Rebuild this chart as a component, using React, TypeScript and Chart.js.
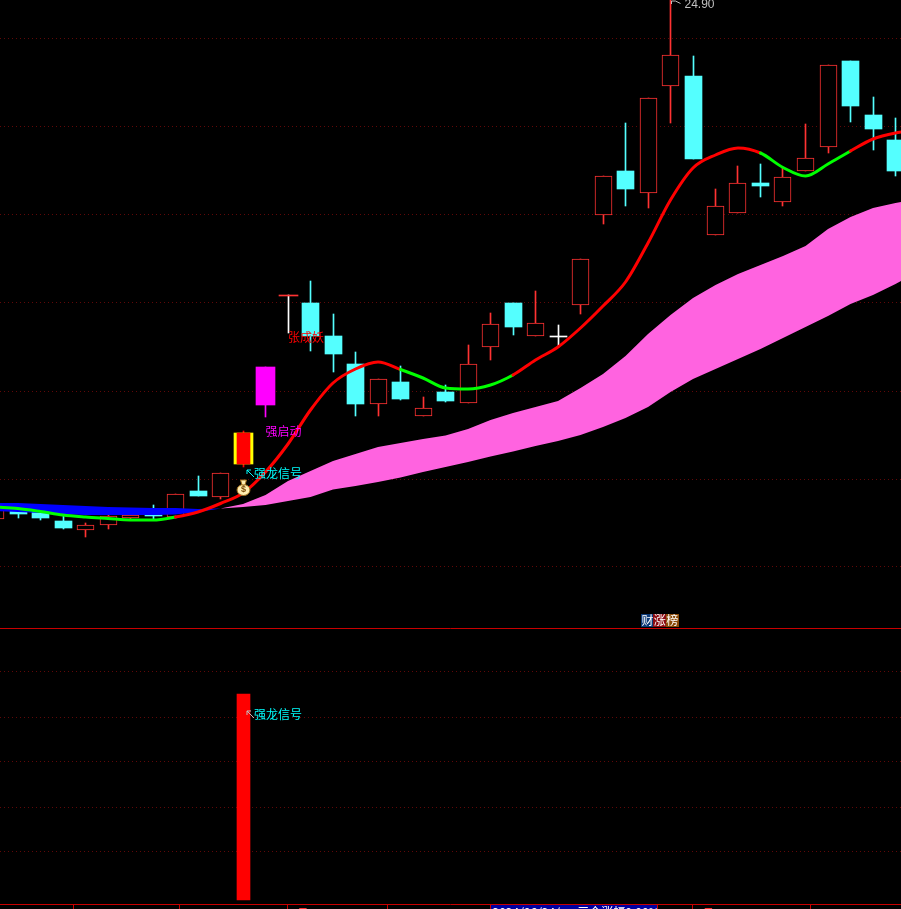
import React, { useEffect, useRef } from "react";
import { Chart, registerables } from "chart.js";

Chart.register(...registerables);

// Candles, one entry per trading day
const candleOpen = [14.52, 14.68, 14.66, 14.48, 14.30, 14.40, 14.54, 14.60, 14.56, 15.08, 14.96, 15.62, 16.80, 18.98, 18.84, 18.18, 17.62, 16.82, 17.26, 16.58, 17.06, 16.84, 17.96, 18.84, 18.18, 18.18, 18.80, 20.60, 21.48, 21.04, 23.18, 23.38, 20.20, 20.64, 21.24, 20.86, 21.48, 21.96, 23.68, 22.60, 22.10];
const candleClose = [14.72, 14.62, 14.54, 14.34, 14.40, 14.58, 14.60, 14.58, 15.02, 14.98, 15.44, 16.24, 17.56, 19.00, 18.18, 17.82, 16.82, 17.32, 16.92, 16.74, 16.88, 17.62, 18.42, 18.36, 18.44, 18.16, 19.72, 21.38, 21.12, 22.94, 23.80, 21.72, 20.78, 21.24, 21.18, 21.36, 21.74, 23.60, 22.78, 22.32, 21.48];
const candleHigh = [14.76, 14.70, 14.68, 14.60, 14.44, 14.60, 14.64, 14.80, 15.02, 15.38, 15.44, 16.28, 17.56, 19.00, 19.28, 18.62, 17.86, 17.32, 17.58, 16.96, 17.20, 18.00, 18.64, 18.84, 19.08, 18.40, 19.72, 21.38, 22.44, 22.94, 24.90, 23.78, 21.12, 21.58, 21.62, 21.56, 22.42, 23.60, 23.68, 22.96, 22.54];
const candleLow = [14.52, 14.54, 14.50, 14.32, 14.16, 14.32, 14.50, 14.50, 14.56, 14.98, 14.92, 15.56, 16.56, 18.24, 17.88, 17.46, 16.58, 16.58, 16.90, 16.58, 16.86, 16.84, 17.70, 18.20, 18.18, 17.96, 18.62, 20.42, 20.78, 20.74, 22.44, 21.72, 20.20, 20.64, 20.96, 20.78, 21.48, 21.84, 22.46, 21.90, 21.38];
const signalDays = [11];
const magentaDays = [12];
const crossDays = [25];
const flatDays = [13];
const whiteWickDays = [13, 25];

// Trend line
const trendLine = [14.76, 14.73, 14.67, 14.60, 14.56, 14.53, 14.50, 14.50, 14.56, 14.66, 14.83, 15.04, 15.46, 16.02, 16.70, 17.24, 17.52, 17.66, 17.51, 17.34, 17.14, 17.12, 17.20, 17.40, 17.70, 17.96, 18.34, 18.78, 19.26, 20.04, 20.90, 21.54, 21.80, 21.94, 21.84, 21.55, 21.38, 21.62, 21.88, 22.12, 22.24, 22.30];
const trendGreenSegments = [0, 1, 2, 3, 4, 5, 6, 7, 18, 19, 20, 21, 22, 34, 35, 36, 37];

// Band after and before the moving averages cross
const bandStart = 10;
const bandUpper = [14.73, 14.82, 15.00, 15.28, 15.48, 15.68, 15.82, 15.96, 16.04, 16.12, 16.19, 16.32, 16.50, 16.64, 16.76, 16.88, 17.14, 17.42, 17.78, 18.22, 18.60, 18.94, 19.20, 19.42, 19.60, 19.78, 19.98, 20.32, 20.56, 20.74, 20.84, 20.92];
const bandLower = [14.73, 14.76, 14.80, 14.88, 14.96, 15.11, 15.18, 15.26, 15.35, 15.46, 15.56, 15.66, 15.77, 15.87, 15.98, 16.08, 16.20, 16.36, 16.54, 16.76, 17.06, 17.32, 17.52, 17.72, 17.92, 18.14, 18.36, 18.58, 18.82, 19.00, 19.22, 19.46];
const crossUpper = [14.84, 14.84, 14.82, 14.80, 14.78, 14.76, 14.75, 14.74, 14.74, 14.72, 14.73];
const crossLower = [14.68, 14.66, 14.64, 14.62, 14.60, 14.60, 14.60, 14.60, 14.61, 14.66, 14.73];

// Grid levels
const priceGrid = [24.12, 22.36, 20.6, 18.84, 17.08, 15.32, 13.56];
const indicatorGrid = [23.3, 45.1, 67, 88.8, 110.7];

// Lower pane
const indicatorDays = [11];
const indicatorValues = [100];

// Axis
const dateTicks = [3.47, 8.2, 12.96, 17.44, 30.98, 36.2];
const monthTickDays = [12.96, 30.98];
const monthTickLabels = ["7月", "8月"];
const cursorLabel = "2024/06/24/一  三今涨幅0.00%";
const highLabel = "24.90";
const signalLabel = "强龙信号";
const startLabel = "强启动";
const demonLabel = "张成妖";
const badgeChars = ["财", "涨", "榜"];

const UP = "#ff3232";
const DOWN = "#54ffff";
const PANE = "#c80000";
const GRID = "#600808";
const X_MIN = 0.2;
const X_MAX = 0.2 + 901 / 22.5;
const PRICE_MIN = 6.72;
const PRICE_MAX = 24.9;
const IND_MIN = -4.37;
const IND_MAX = 436.89;

const series = (vals: number[], start = 0) => vals.map((y, i) => ({ x: i + start, y }));
const isSpecial = (i: number) =>
  signalDays.includes(i) || magentaDays.includes(i) || crossDays.includes(i) || flatDays.includes(i);
const bodyAt = (i: number) => ({ x: i, y: [candleOpen[i], candleClose[i]] });
const allDays = candleOpen.map((_, i) => i);

const snapBars = {
  id: "snapBars",
  beforeDatasetsDraw(chart: any) {
    chart.getSortedVisibleDatasetMetas().forEach((meta: any) => {
      if (meta.type !== "bar") return;
      meta.data.forEach((el: any) => {
        el.x = Math.floor(el.x) + 0.5;
        el.y = Math.round(el.y);
        el.base = Math.round(el.base);
      });
    });
  },
};

const background = {
  id: "background",
  beforeDraw(chart: any) {
    const { ctx, width, height } = chart;
    ctx.save();
    ctx.fillStyle = "#000";
    ctx.fillRect(0, 0, width, height);
    ctx.restore();
  },
};

const annotations = {
  id: "annotations",
  afterDatasetsDraw(chart: any) {
    const { ctx } = chart;
    const sx = chart.scales.x;
    const sy = chart.scales.y;
    const si = chart.scales.yInd;
    const cjk = '12px "Noto Sans CJK SC"';
    ctx.save();
    ctx.textBaseline = "middle";
    ctx.textAlign = "left";

    const text = (t: string, x: number, y: number, color: string, font = cjk) => {
      ctx.font = font;
      ctx.fillStyle = color;
      ctx.fillText(t, x, y);
    };

    // money bag
    const bx = sx.getPixelForValue(11) + 0.5;
    const by = sy.getPixelForValue(15.14);
    ctx.fillStyle = "#ffedb0";
    ctx.strokeStyle = "#9a6a18";
    ctx.lineWidth = 1;
    ctx.beginPath();
    ctx.ellipse(bx, by + 2, 6.5, 5.5, 0, 0, Math.PI * 2);
    ctx.fill();
    ctx.stroke();
    ctx.beginPath();
    ctx.moveTo(bx - 3, by - 8);
    ctx.lineTo(bx + 3, by - 8);
    ctx.lineTo(bx + 1.5, by - 3);
    ctx.lineTo(bx - 1.5, by - 3);
    ctx.closePath();
    ctx.fill();
    ctx.stroke();
    ctx.textAlign = "center";
    text("$", bx, by + 2, "#7a4a08", 'bold 9px "Liberation Sans"');
    ctx.textAlign = "left";

    // pattern labels
    text(demonLabel, sx.getPixelForValue(13), sy.getPixelForValue(18.16), "#ff0000");
    text(startLabel, sx.getPixelForValue(12), sy.getPixelForValue(16.28), "#ff00ff");

    const arrow = (y: number, color: string) => {
      const x = sx.getPixelForValue(11) + 3;
      ctx.strokeStyle = color;
      ctx.fillStyle = color;
      ctx.lineWidth = 1;
      ctx.beginPath();
      ctx.moveTo(x + 8, y + 4);
      ctx.lineTo(x + 1, y - 3);
      ctx.moveTo(x + 1, y - 3);
      ctx.lineTo(x + 5, y - 3);
      ctx.moveTo(x + 1, y - 3);
      ctx.lineTo(x + 1, y + 1);
      ctx.stroke();
    };
    const upperSignalY = sy.getPixelForValue(15.44);
    arrow(upperSignalY, "#00ffff");
    text(signalLabel, sx.getPixelForValue(11) + 11, upperSignalY, "#00ffff");
    const lowerSignalY = si.getPixelForValue(90.3);
    arrow(lowerSignalY, "#c0c0c0");
    text(signalLabel, sx.getPixelForValue(11) + 11, lowerSignalY, "#00ffff");

    // highest price flag
    const hx = sx.getPixelForValue(30);
    const hy = sy.getPixelForValue(24.9);
    ctx.strokeStyle = "#c0c0c0";
    ctx.lineWidth = 1;
    ctx.beginPath();
    ctx.moveTo(hx + 1, hy + 4);
    ctx.lineTo(hx + 1, hy + 1);
    ctx.lineTo(hx + 5, hy + 1);
    ctx.lineTo(hx + 10, hy + 3.5);
    ctx.stroke();
    text(highLabel, hx + 14, hy + 5, "#c0c0c0", '12px "Liberation Sans"');

    // badge
    const badgeColors = ["#0c3a78", "#8c0a10", "#8a4a08"];
    const bLeft = sx.getPixelForValue(28.69);
    const bTop = sy.getPixelForValue(12.62);
    badgeChars.forEach((c, i) => {
      ctx.fillStyle = badgeColors[i];
      ctx.fillRect(Math.round(bLeft + i * 12.33), Math.round(bTop), 13, 13);
    });
    ctx.textAlign = "center";
    badgeChars.forEach((c, i) => {
      text(c, bLeft + 6.5 + i * 12.33, bTop + 6.5, "#ffffff");
    });
    ctx.textAlign = "left";

    // date axis
    const axisY = sy.getPixelForValue(6.81);
    ctx.strokeStyle = PANE;
    ctx.lineWidth = 1;
    dateTicks.forEach((d) => {
      const x = Math.floor(sx.getPixelForValue(d)) + 0.5;
      ctx.beginPath();
      ctx.moveTo(x, axisY);
      ctx.lineTo(x, axisY + 5);
      ctx.stroke();
    });
    ctx.textBaseline = "top";
    monthTickDays.forEach((d, i) => {
      text(monthTickLabels[i], sx.getPixelForValue(d) + 3, axisY + 3, "#ff3232");
    });
    // cursor date box, cut by the bottom of the window
    const boxL = Math.floor(sx.getPixelForValue(22)) + 0.5;
    const boxR = Math.floor(sx.getPixelForValue(29.4)) + 0.5;
    ctx.fillStyle = "#0000a0";
    ctx.fillRect(boxL, axisY, boxR - boxL, 6);
    ctx.strokeStyle = PANE;
    ctx.strokeRect(boxL, axisY, boxR - boxL, 8);
    text(cursorLabel, boxL + 2, axisY + 2, "#ffffff", '12px "Noto Sans CJK SC"');
    ctx.restore();
  },
};

export default function App() {
  const ref = useRef<HTMLCanvasElement | null>(null);

  useEffect(() => {
    document.body.style.margin = "0";
    document.body.style.background = "#000";
    const noPoint = { pointRadius: 0, pointHoverRadius: 0 };
    const chart = new Chart(ref.current as HTMLCanvasElement, {
      type: "bar",
      plugins: [background, snapBars, annotations],
      data: {
        datasets: [
          {
            type: "line",
            label: "Trend",
            data: series(trendLine),
            borderColor: "#ff0000",
            borderWidth: 3,
            borderCapStyle: "round",
            cubicInterpolationMode: "monotone",
            order: 1,
            segment: {
              borderColor: (ctx: any) => (trendGreenSegments.includes(ctx.p0DataIndex) ? "#00ff00" : "#ff0000"),
            },
            ...noPoint,
          },
          {
            type: "line",
            label: "Cross lower",
            data: series(crossLower),
            borderWidth: 0,
            fill: false,
            order: 2,
            ...noPoint,
          },
          {
            type: "line",
            label: "Cross upper",
            data: series(crossUpper),
            borderWidth: 0,
            fill: { target: "-1", above: "#0000ff", below: "#0000ff" },
            order: 2,
            ...noPoint,
          },
          {
            type: "line",
            label: "Band lower",
            data: series(bandLower, bandStart),
            borderWidth: 0,
            fill: false,
            order: 2,
            ...noPoint,
          },
          {
            type: "line",
            label: "Band upper",
            data: series(bandUpper, bandStart),
            borderWidth: 0,
            fill: { target: "-1", above: "#ff63e0", below: "#ff63e0" },
            order: 2,
            ...noPoint,
          },
          {
            label: "Hollow bodies",
            data: allDays.filter((i) => !isSpecial(i) && candleClose[i] >= candleOpen[i]).map(bodyAt),
            backgroundColor: "#000",
            borderColor: UP,
            borderWidth: 1,
            borderSkipped: false,
            barThickness: 17,
            grouped: false,
            order: 3,
          },
          {
            label: "Flat bodies",
            data: flatDays.map(bodyAt),
            backgroundColor: UP,
            barThickness: 19,
            grouped: false,
            order: 3,
          },
          {
            label: "Falling bodies",
            data: allDays.filter((i) => !isSpecial(i) && candleClose[i] < candleOpen[i]).map(bodyAt),
            backgroundColor: DOWN,
            barThickness: 17,
            grouped: false,
            order: 3,
          },
          {
            label: "Cross bodies",
            data: crossDays.map(bodyAt),
            backgroundColor: "#ffffff",
            barThickness: 17,
            grouped: false,
            order: 3,
          },
          {
            label: "Signal inner",
            data: signalDays.map(bodyAt),
            backgroundColor: "#ff0000",
            barThickness: 13,
            grouped: false,
            order: 3,
          },
          {
            label: "Signal outer",
            data: signalDays.map(bodyAt),
            backgroundColor: "#ffff00",
            barThickness: 19,
            grouped: false,
            order: 4,
          },
          {
            label: "Magenta body",
            data: magentaDays.map(bodyAt),
            backgroundColor: "#ff00ff",
            barThickness: 19,
            grouped: false,
            order: 4,
          },
          {
            label: "Wicks",
            data: allDays.map((i) => ({ x: i, y: [candleLow[i], candleHigh[i]] })),
            backgroundColor: allDays.map((i) =>
              whiteWickDays.includes(i)
                ? "#ffffff"
                : signalDays.includes(i)
                  ? "#ff0000"
                  : magentaDays.includes(i)
                    ? "#ff00ff"
                    : candleClose[i] >= candleOpen[i]
                      ? UP
                      : DOWN,
            ),
            barThickness: 1,
            grouped: false,
            order: 5,
          },
          {
            label: "Indicator",
            yAxisID: "yInd",
            data: indicatorDays.map((x, i) => ({ x, y: [0, indicatorValues[i]] })),
            backgroundColor: "#ff0000",
            barThickness: 13,
            grouped: false,
            order: 3,
          },
          {
            type: "line",
            label: "Pane top",
            data: [
              { x: X_MIN, y: 12.33 },
              { x: X_MAX, y: 12.33 },
            ],
            borderColor: PANE,
            borderWidth: 1,
            order: 0,
            ...noPoint,
          },
          {
            type: "line",
            label: "Pane bottom",
            data: [
              { x: X_MIN, y: 6.81 },
              { x: X_MAX, y: 6.81 },
            ],
            borderColor: PANE,
            borderWidth: 1,
            order: 0,
            ...noPoint,
          },
        ],
      } as any,
      options: {
        animation: false,
        responsive: false,
        devicePixelRatio: 1,
        layout: { padding: 0 },
        events: [],
        plugins: { legend: { display: false }, tooltip: { enabled: false } },
        scales: {
          x: { type: "linear", min: X_MIN, max: X_MAX, offset: false, display: false, grid: { display: false } },
          y: {
            type: "linear",
            min: PRICE_MIN,
            max: PRICE_MAX,
            beginAtZero: false,
            afterBuildTicks: (s: any) => {
              s.ticks = priceGrid.map((value) => ({ value }));
            },
            ticks: { display: false },
            border: { display: false, dash: [1, 3] },
            grid: { color: GRID, drawTicks: false },
          },
          yInd: {
            type: "linear",
            axis: "y",
            position: "left",
            min: IND_MIN,
            max: IND_MAX,
            afterBuildTicks: (s: any) => {
              s.ticks = indicatorGrid.map((value) => ({ value }));
            },
            ticks: { display: false },
            border: { display: false, dash: [1, 3] },
            grid: { color: GRID, drawTicks: false },
          },
        },
      } as any,
    });
    return () => chart.destroy();
  }, []);

  return (
    <div style={{ position: "fixed", left: 0, top: 0, width: 901, height: 909, background: "#000", overflow: "hidden" }}>
      <canvas ref={ref} width={901} height={909} style={{ display: "block", width: 901, height: 909 }} />
    </div>
  );
}
